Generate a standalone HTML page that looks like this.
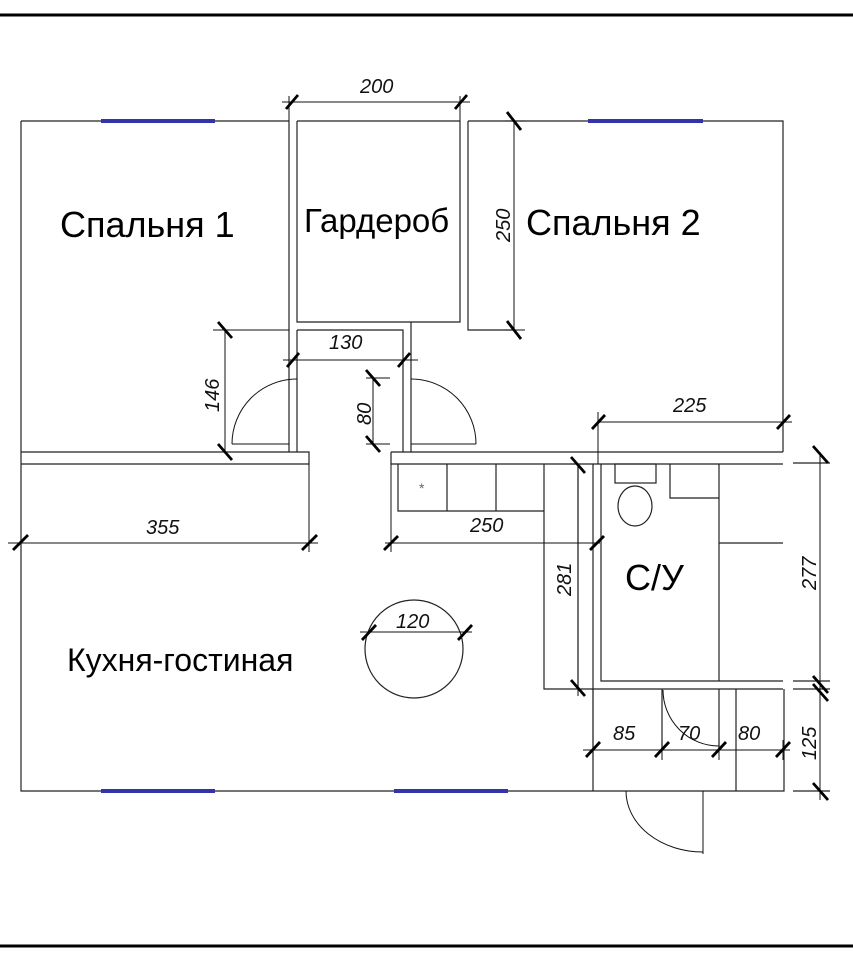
<!DOCTYPE html>
<html><head><meta charset="utf-8"><style>
html,body{margin:0;padding:0;background:#fff;}
svg{display:block;}
.w{stroke:#222;stroke-width:1.2;fill:none;}
.d{stroke:#111;stroke-width:1;fill:none;}
.t{stroke:#000;stroke-width:2.8;}
.lbl{font-family:"Liberation Sans",sans-serif;font-style:italic;font-size:20px;fill:#111;}
.room{font-family:"Liberation Sans","Noto Sans CJK SC",sans-serif;fill:#000;}
</style></head><body>
<svg width="853" height="960" viewBox="0 0 853 960" xmlns="http://www.w3.org/2000/svg">
<line x1="0" y1="15" x2="853" y2="15" stroke="#000" stroke-width="3"/>
<line x1="0" y1="946" x2="853" y2="946" stroke="#000" stroke-width="3"/>

<path class="w" d="M21 121 H289 M297 121 H460 M468 121 H783 V452"/>
<path class="w" d="M21 121 V791 H784 V689"/>
<g stroke="#3333aa" stroke-width="4"><line x1="101" y1="121" x2="215" y2="121"/><line x1="588" y1="121" x2="703" y2="121"/><line x1="101" y1="791" x2="215" y2="791"/><line x1="394" y1="791" x2="508" y2="791"/></g>

<path class="w" d="M289 121 V452 M297 121 V322 H460 V121 M468 121 V330 H515"/>
<path class="w" d="M297 330 V452 M297 330 H403 V452 M411 322 V452"/>
<path class="w" d="M21 452 H309 V464 H21 M391 452 H783 M391 452 V464 H783"/>
<path class="d" d="M232 444 A65 65 0 0 1 297 379 M232 444 H289"/>
<path class="d" d="M411 379 A65 65 0 0 1 476 444 M411 444 H476"/>

<path class="w" d="M398 464 V511 H544 M447 464 V511 M496 464 V511 M544 464 V689 H593"/>
<text x="419" y="493" font-size="14" fill="#666" font-family="Liberation Sans">*</text>

<path class="w" d="M578 464 V689 M593 464 V791 M601 464 V681 H783 M593 689 H783"/>
<rect class="w" x="615" y="464" width="41" height="19"/>
<ellipse class="w" cx="635" cy="506" rx="17" ry="20"/>
<path class="w" d="M670 464 V498 H719 M719 464 V681 M719 543 H783"/>

<path class="w" d="M719 689 V750 M736 689 V791 M662 689 V750"/>
<path class="d" d="M663 690 A56 56 0 0 0 719 746"/>
<path class="d" d="M626 791 A77 61 0 0 0 703 852 M703 791 V854"/>
<path class="w" d="M793 791 H830 M793 463 H830 M793 681 H830 M793 689 H830"/>

<circle class="w" cx="414" cy="649" r="49"/>

<g class="d">
<path d="M282 102 H470 M289 96 V121 M460 96 V121"/>
<path d="M505 121 H525 M514 121 V330 M505 330 H525"/>
<path d="M213 330 H289 M225 330 V452"/>
<path d="M283 360 H418"/>
<path d="M366 378 H390 M366 444 H390 M373 378 V444"/>
<path d="M598 422 H792 M598 412 V464"/>
<path d="M820 452 V800"/>
<path d="M8 543 H318 M309 464 V552 M385 543 H600 M391 464 V552"/>
<path d="M570 464 H578 M578 464 V696"/>
<path d="M360 632 H472"/>
<path d="M583 750 H790 M593 689 V760 M662 740 V760 M719 740 V760 M783 740 V760"/>
</g>
<g class="t">
<line x1="286" y1="109" x2="298" y2="95"/><line x1="455" y1="109" x2="467" y2="95"/>
<line x1="507" y1="112" x2="521" y2="130"/><line x1="507" y1="321" x2="521" y2="339"/>
<line x1="218" y1="322" x2="232" y2="338"/><line x1="218" y1="444" x2="232" y2="460"/>
<line x1="287" y1="367" x2="299" y2="353"/><line x1="398" y1="367" x2="410" y2="353"/>
<line x1="366" y1="370" x2="380" y2="386"/><line x1="366" y1="436" x2="380" y2="452"/>
<line x1="592" y1="429" x2="605" y2="415"/><line x1="777" y1="429" x2="790" y2="415"/>
<line x1="813" y1="446" x2="828" y2="463"/><line x1="813" y1="676" x2="828" y2="693"/><line x1="813" y1="684" x2="828" y2="701"/><line x1="813" y1="783" x2="828" y2="800"/>
<line x1="13" y1="550" x2="28" y2="535"/><line x1="302" y1="550" x2="317" y2="535"/>
<line x1="384" y1="550" x2="398" y2="536"/><line x1="590" y1="550" x2="604" y2="536"/>
<line x1="571" y1="457" x2="585" y2="473"/><line x1="571" y1="680" x2="585" y2="696"/>
<line x1="362" y1="640" x2="376" y2="625"/><line x1="458" y1="640" x2="472" y2="625"/>
<line x1="586" y1="757" x2="600" y2="742"/><line x1="655" y1="757" x2="669" y2="742"/><line x1="712" y1="757" x2="726" y2="742"/><line x1="776" y1="757" x2="790" y2="742"/>
</g>

<text class="lbl" x="360" y="93">200</text>
<text class="lbl" transform="translate(510,242) rotate(-90)">250</text>
<text class="lbl" transform="translate(219,412) rotate(-90)">146</text>
<text class="lbl" x="329" y="349">130</text>
<text class="lbl" transform="translate(371,425) rotate(-90)">80</text>
<text class="lbl" x="673" y="412">225</text>
<text class="lbl" transform="translate(816,590) rotate(-90)">277</text>
<text class="lbl" transform="translate(816,760) rotate(-90)">125</text>
<text class="lbl" x="146" y="534">355</text>
<text class="lbl" x="470" y="532">250</text>
<text class="lbl" transform="translate(571,596) rotate(-90)">281</text>
<text class="lbl" x="396" y="628">120</text>
<text class="lbl" x="613" y="740">85</text>
<text class="lbl" x="678" y="740">70</text>
<text class="lbl" x="738" y="740">80</text>

<text class="room" x="60" y="237" font-size="36">Спальня 1</text>
<text class="room" x="304" y="232" font-size="33">Гардероб</text>
<text class="room" x="526" y="235" font-size="36">Спальня 2</text>
<text class="room" x="67" y="671" font-size="32">Кухня-гостиная</text>
<text class="room" x="625" y="590" font-size="36">С/У</text>
</svg>
</body></html>
